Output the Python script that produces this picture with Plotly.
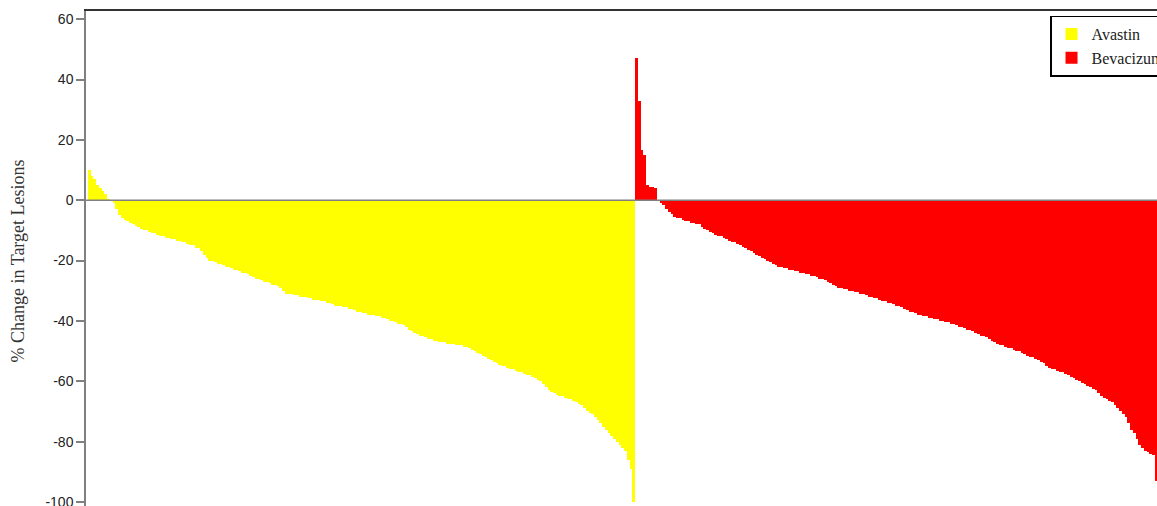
import plotly.graph_objects as go

avastin = [
    10, 8, 7, 5, 4, 3, 2, 0.5, 0, -1,
    -3, -5, -6, -6.5, -7, -7.5, -8, -8.5, -9, -9.5,
    -10, -10, -10.5, -11, -11, -11.5, -12, -12, -12.5, -12.5,
    -13, -13, -13.5, -13.5, -14, -14, -14.5, -15, -15, -16,
    -16, -17, -18, -19, -20, -20, -20.5, -21, -21, -21.5,
    -22, -22, -22.5, -23, -23, -23.5, -24, -24, -24.5, -25,
    -25.5, -26, -26, -26.5, -27, -27, -27.5, -28, -28, -28.5,
    -29, -30, -31, -31, -31, -31.5, -31.5, -32, -32, -32,
    -32.5, -32.5, -33, -33, -33, -33.5, -33.5, -34, -34, -34.5,
    -35, -35, -35, -35.5, -35.5, -36, -36, -36.5, -37, -37,
    -37.5, -37.5, -38, -38, -38, -38.5, -38.5, -39, -39, -39.5,
    -40, -40, -40.5, -41, -41, -41.5, -42, -43, -43.5, -44,
    -44.5, -45, -45, -45.5, -46, -46, -46.5, -46.5, -47, -47,
    -47, -47.5, -47.5, -47.5, -48, -48, -48, -48.5, -48.5, -49,
    -49.5, -50, -50.5, -51, -51.5, -52, -52.5, -53, -53.5, -54,
    -54.5, -55, -55, -55.5, -56, -56, -56.5, -57, -57, -57.5,
    -58, -58, -58.5, -59, -59.5, -60, -61, -62, -63, -63.5,
    -64, -64.5, -65, -65, -65.5, -66, -66, -66.5, -67, -67.5,
    -68, -69, -70, -70.5, -71, -72, -73, -74, -75, -76,
    -77, -78, -79, -80, -81, -82, -83, -86, -89, -100,
]

bevacizumab = [
    47, 33, 16.5, 15, 5, 4.5, 4.5, 4, 0, -1,
    -1.7, -3, -4, -4.5, -5.5, -6, -6, -6.5, -7, -7,
    -7.5, -7.5, -8, -8, -9, -9.5, -10, -10.5, -11, -11.5,
    -12, -12, -12.5, -13, -13.5, -14, -14, -14.5, -15, -15.5,
    -16, -16.5, -17, -17.5, -18, -18.5, -19, -19.5, -20, -20.5,
    -21, -21.5, -22, -22, -22.5, -22.5, -23, -23, -23.5, -23.5,
    -24, -24, -24.5, -24.5, -25, -25, -25.5, -26, -26, -26.5,
    -27, -27.5, -28, -28.5, -29, -29, -29.5, -29.5, -30, -30,
    -30.5, -30.5, -31, -31, -31.5, -32, -32, -32.5, -32.5, -33,
    -33.5, -33.5, -34, -34, -34.5, -35, -35, -35.5, -36, -36.5,
    -37, -37, -37.5, -38, -38, -38.5, -38.5, -39, -39, -39.5,
    -39.5, -40, -40, -40.5, -40.5, -41, -41, -41.5, -42, -42,
    -42.5, -43, -43, -43.5, -44, -44.5, -45, -45, -45.5, -46,
    -46.5, -47, -47.5, -48, -48, -48.5, -49, -49, -49.5, -50,
    -50, -50.5, -51, -51.5, -52, -52, -52.5, -53, -53.5, -54,
    -55, -55.5, -56, -56, -56.5, -57, -57, -57.5, -58, -58.5,
    -59, -59.5, -60, -60.5, -61, -61.5, -62, -62.5, -63, -64,
    -65, -65.5, -66, -66.5, -67, -68, -69, -70, -71, -72,
    -74, -76, -77, -79, -81, -82, -83, -83.5, -84, -84.5,
    -93, -94, -96, -98, -100,
]

y_ticks = [60, 40, 20, 0, -20, -40, -60, -80, -100]
y_tick_labels = ["60", "40", "20", "0", "-20", "-40", "-60", "-80", "-100"]

x_av = list(range(len(avastin)))
x_bev = list(range(len(avastin), len(avastin) + len(bevacizumab)))

fig = go.Figure()
fig.add_trace(go.Bar(x=x_av, y=avastin, name="Avastin",
                     marker=dict(color="#FFFF00", line=dict(width=0))))
fig.add_trace(go.Bar(x=x_bev, y=bevacizumab, name="Bevacizumab",
                     marker=dict(color="#FF0000", line=dict(width=0))))

fig.add_shape(type="line", xref="paper", x0=0, x1=1, yref="y", y0=0, y1=0,
              line=dict(color="#808080", width=1.5), layer="above")

fig.update_layout(
    width=1188, height=540,
    margin=dict(l=86, r=10, t=11, b=29, autoexpand=False),
    plot_bgcolor="white", paper_bgcolor="white",
    bargap=0, barmode="overlay",
    showlegend=True,
    legend=dict(x=0.8828, y=0.991, xanchor="left", yanchor="top",
                bgcolor="white", bordercolor="black", borderwidth=1.5,
                font=dict(family="Liberation Serif", size=16, color="#222"),
                itemsizing="constant", tracegroupgap=0),
    xaxis=dict(range=[-1.23, 398], showticklabels=False, ticks="",
               showgrid=False, zeroline=False, showline=True, mirror=True,
               linecolor="#333", linewidth=1.5),
    yaxis=dict(range=[-103, 62.7], tickvals=y_ticks, ticktext=y_tick_labels,
               ticks="outside", ticklen=8, tickcolor="#808080", tickwidth=1.5,
               showgrid=False, zeroline=False, showline=True,
               linecolor="#808080", linewidth=1.5,
               tickfont=dict(family="Liberation Sans", size=14, color="#222"),
               title=dict(text="% Change in Target Lesions", standoff=16,
                          font=dict(family="Liberation Serif", size=18, color="#333"))),
)

fig.write_html(
    "out.html",
    config={"displayModeBar": False},
    post_script="document.documentElement.style.overflow='hidden';"
                "document.body.style.overflow='hidden';"
                "document.body.style.margin='0';",
)
